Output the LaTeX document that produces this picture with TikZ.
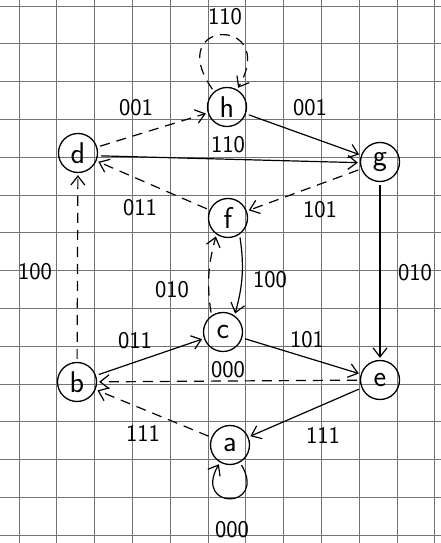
\documentclass[tikz,border=0pt]{standalone}
\usetikzlibrary{arrows.meta}
\begin{document}
\begin{tikzpicture}[x=1pt,y=1pt,
  gridline/.style={draw=black!55,line width=0.8pt},
  state/.style={circle,draw,line width=1.3pt,minimum size=39pt,inner sep=0pt,font=\sffamily\fontsize{30}{32}\selectfont},
  lbl/.style={font=\sffamily\fontsize{24}{26}\selectfont,inner sep=0pt},
  edge/.style={line width=1.2pt,-{Straight Barb[length=9pt,width=14pt,line width=1.2pt]},shorten >=2pt,shorten <=3pt},
  dedge/.style={edge,dash pattern=on 10pt off 7pt}]
\useasboundingbox (0,0) rectangle (441,543);
\fill[white] (0,0) rectangle (441,543);
\foreach \k in {0,...,11} \draw[gridline] ({19+37.8*\k},0) -- ++(0,543);
\foreach \k in {0,...,14} \draw[gridline] (0,{537-37.8*\k}) -- ++(441,0);
% states
\node[state] (h) at (227,436) {h};
\node[state] (d) at (78,390) {d};
\node[state] (g) at (380,381) {g};
\node[state] (f) at (228,325) {f};
\node[state] (c) at (223,211) {c};
\node[state] (b) at (77,161) {b};
\node[state] (e) at (380,163) {e};
\node[state] (a) at (230,98) {a};
% edges
\draw[dedge] (h.130) .. controls +(125:90) and +(60:85) .. (h.60);
\draw[dedge] (d) -- (h);
\draw[edge] (h) -- (g);
\draw[edge] (d.-8) -- (g.182);
\draw[dedge] (g) -- (f);
\draw[dedge] (f) -- (d);
\draw[edge] (g) -- (e);
\draw[dedge] (b) -- (d);
\draw[edge] (f.-55) to[bend left=12] (c.55);
\draw[dedge] (c.125) to[bend left=12] (f.-125);
\draw[edge] (b) -- (c);
\draw[edge] (c) -- (e);
\draw[dedge] (e) -- (b);
\draw[dedge] (a) -- (b);
\draw[edge] (e) -- (a);
\draw[edge] (a.-60) .. controls +(-60:55) and +(-120:55) .. (a.-120);
% labels
\node[lbl] (l1) at (225,526) {110};
\node[lbl] (l2) at (136,435) {001};
\node[lbl] (l3) at (310,435) {001};
\node[lbl] (l4) at (228,398) {110};
\node[lbl] (l5) at (140,335) {011};
\node[lbl] (l6) at (320,333) {101};
\node[lbl] (l7) at (35,271) {100};
\node[lbl] (l8) at (172,253) {010};
\node[lbl] (l9) at (270,263) {100};
\node[lbl] (l10) at (415,270) {010};
\node[lbl] (l11) at (135,202) {011};
\node[lbl] (l12) at (307,203) {101};
\node[lbl] (l13) at (228,173) {000};
\node[lbl] (l14) at (143,110) {111};
\node[lbl] (l15) at (323,108) {111};
\node[lbl] (l16) at (232,13) {000};
\end{tikzpicture}
\end{document}
